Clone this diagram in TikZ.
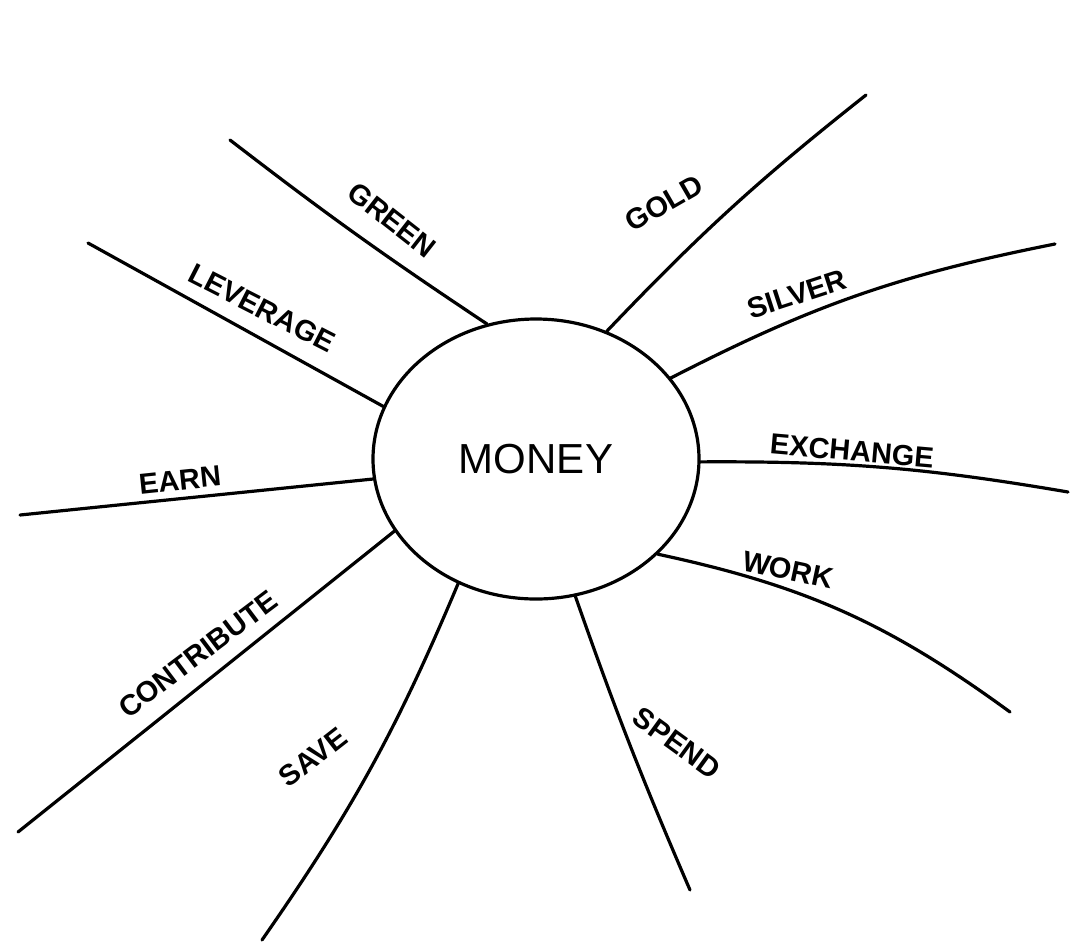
\documentclass[tikz,border=0pt]{standalone}
\usepackage{fontspec}
\setmainfont{Liberation Sans}
\usetikzlibrary{shapes.geometric}
\tikzset{
    hub/.style={ellipse, draw=black, line width=3.2pt, minimum width=326pt, minimum height=280pt, font=\fontsize{42}{42}\selectfont},
    branch/.style={line width=3.2pt, draw=black, line cap=round},
    leaf/.style={font=\fontsize{29}{29}\selectfont\bfseries, inner sep=0pt}
}

\begin{document}
\begin{tikzpicture}[x=1pt, y=-1pt]
    \useasboundingbox (0,0) rectangle (1070,946);
    \node[hub] (money) at (536,459) {MONEY};
    % outer ends of the branches
    \coordinate (greenend) at (230,140);
    \coordinate (leverageend) at (88,243);
    \coordinate (earnend) at (20,515);
    \coordinate (contributeend) at (18,832);
    \coordinate (saveend) at (262,940);
    \coordinate (spendend) at (690,890);
    \coordinate (workend) at (1010,712);
    \coordinate (exchangeend) at (1068,492);
    \coordinate (silverend) at (1055,244);
    \coordinate (goldend) at (866,95);
    \foreach \a/\e/\b in {110/greenend/2, 161/leverageend/0, 187/earnend/0, 207/contributeend/0, 238/saveend/6,
                          286/spendend/-2, 322/workend/12, 359/exchangeend/5, 31/silverend/8, 61/goldend/4}
        \draw[branch] (money.\a) to[bend left=\b] (\e);
    % labels along the branches
    \foreach \n/\x/\y/\r/\t in {green/392/220/-38/GREEN, leverage/262/308/-27/LEVERAGE, earn/180/480/6/EARN,
                                contribute/198/654/37/CONTRIBUTE, save/313/757/38/SAVE, spend/677/743/-36/SPEND,
                                work/788/570/-12/WORK, exchange/852/451/-5/EXCHANGE, silver/797/294/18/SILVER,
                                gold/664/203/30/GOLD}
        \node[leaf, rotate=\r] (\n) at (\x,\y) {\t};
\end{tikzpicture}
\end{document}
